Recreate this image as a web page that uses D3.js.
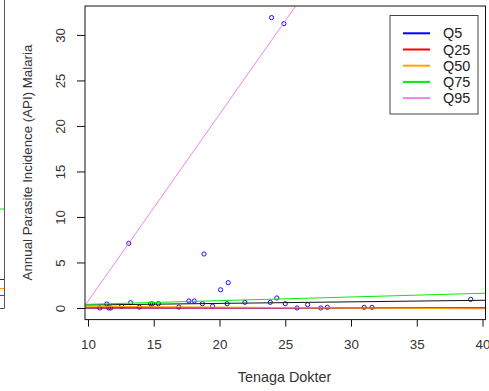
<!DOCTYPE html>
<html><head><meta charset="utf-8">
<script src="https://cdn.jsdelivr.net/npm/d3@7"></script>
<style>body{margin:0;background:#fff;}svg{display:block;font-family:"Liberation Sans",Arial,sans-serif;}</style>
</head><body><div id="chart"></div>
<script>
// Data points: Tenaga Dokter (x) vs API Malaria (y)
const pointX = [10.9,11.42,11.57,11.72,12.56,13.1,13.24,13.9,14.76,14.9,15.35,16.9,17.67,18.08,18.7,18.82,19.47,20.08,20.58,20.66,21.93,23.86,23.96,24.36,24.9,25.0,25.9,26.7,27.7,28.2,31.0,31.6,39.1];
const pointY = [0.0,0.44,0.0,0.0,0.2,7.1,0.58,0.1,0.44,0.44,0.47,0.1,0.77,0.77,0.47,5.93,0.2,2.0,0.47,2.78,0.62,0.62,31.9,1.1,31.24,0.47,0.0,0.37,0.0,0.07,0.07,0.07,0.95];

// Fitted lines (intercept, slope)
const lineNames = ["Q5","Q25","Q50","Q75","Q95"];
const lineColors = ["#0000FF","#FF0000","#FFA500","#00EE00","#EE82EE"];
const lineIntercepts = [0.0, 0.0, 0.285, 0.0, -19.80];
const lineSlopes = [0.0, 0.0, -0.0095, 0.0403, 2.054];
// extra unlabelled black fit
const blackIntercept = 0.158;
const blackSlope = 0.0172;

const xTicks = [10,15,20,25,30,35,40];
const yTicks = [0,5,10,15,20,25,30];
const xTitle = "Tenaga Dokter";
const yTitle = "Annual Parasite Incidence (API) Malaria";

const W = 489, H = 391;
const box = {left: 85, right: 485.5, top: 6, bottom: 319.6};

const svg = d3.select("#chart").append("svg").attr("width", W).attr("height", H);

// fragment of neighbouring panel at the left edge
const frag = svg.append("g");
frag.append("line").attr("x1",4.5).attr("x2",4.5).attr("y1",0).attr("y2",308.5).attr("stroke","#555").attr("stroke-width",1);
frag.append("line").attr("x1",0).attr("x2",4.5).attr("y1",308.5).attr("y2",308.5).attr("stroke","#555");
[[209,"#00EE00"],[279.5,"#333"],[288.5,"#FFA500"],[295.5,"#FF0000"]].forEach(d=>{
  frag.append("line").attr("x1",0).attr("x2",4).attr("y1",d[0]).attr("y2",d[0]).attr("stroke",d[1]);
});

const xmin = d3.min(pointX), xmax = d3.max(pointX);
const ymin = d3.min(pointY), ymax = d3.max(pointY);
const xpad = (xmax-xmin)*0.04, ypad = (ymax-ymin)*0.04;
const x = d3.scaleLinear().domain([xmin-xpad, xmax+xpad]).range([box.left, box.right]);
const y = d3.scaleLinear().domain([ymin-ypad, ymax+ypad]).range([box.bottom, box.top]);

svg.append("clipPath").attr("id","clip").append("rect")
  .attr("x",box.left).attr("y",box.top).attr("width",box.right-box.left).attr("height",box.bottom-box.top);

// points
svg.append("g").selectAll("circle").data(pointX.map((v,i)=>[v,pointY[i]])).join("circle")
  .attr("cx",d=>x(d[0])).attr("cy",d=>y(d[1])).attr("r",2.1)
  .attr("fill","none").attr("stroke","#1010FF").attr("stroke-width",1);

// lines
const gl = svg.append("g").attr("clip-path","url(#clip)");
const xd = x.domain();
function drawLine(a,b,col){
  gl.append("line").attr("x1",x(xd[0])).attr("x2",x(xd[1]))
    .attr("y1",y(a+b*xd[0])).attr("y2",y(a+b*xd[1]))
    .attr("stroke",col).attr("stroke-width",1);
}
drawLine(blackIntercept, blackSlope, "#111");
lineNames.forEach((n,i)=>drawLine(lineIntercepts[i], lineSlopes[i], lineColors[i]));

// box
svg.append("rect").attr("x",box.left).attr("y",box.top).attr("width",box.right-box.left).attr("height",box.bottom-box.top)
  .attr("fill","none").attr("stroke","#111").attr("stroke-width",1);

// axes
const xAxis = d3.axisBottom(x).tickValues(xTicks).tickSize(7).tickPadding(5).tickFormat(d3.format("d"));
const gx = svg.append("g").attr("transform",`translate(0,${box.bottom})`).call(xAxis);
gx.select(".domain").remove();
gx.selectAll("line").attr("stroke","#111");
gx.selectAll("text").attr("font-size","13.4px").attr("fill","#333").attr("font-family","Liberation Sans, Arial, sans-serif")
  .attr("dy",null).attr("y",29.5);

const yAxis = d3.axisLeft(y).tickValues(yTicks).tickSize(8).tickFormat(d3.format("d"));
const gy = svg.append("g").attr("transform",`translate(${box.left},0)`).call(yAxis);
gy.select(".domain").remove();
gy.selectAll("line").attr("stroke","#111");
gy.selectAll("text").remove();
gy.selectAll(".tick").append("text")
  .attr("transform","translate(-20,0) rotate(-90)")
  .attr("text-anchor","middle").attr("font-size","13.3px").attr("fill","#333")
  .text(d=>d);

// titles
svg.append("text").attr("x",284.5).attr("y",381.5).attr("text-anchor","middle")
  .attr("font-size","14.4px").attr("fill","#333").text(xTitle);
svg.append("text").attr("transform","translate(31.5,162.5) rotate(-90)").attr("text-anchor","middle")
  .attr("font-size","13.3px").attr("fill","#333").text(yTitle);

// legend
const lg = svg.append("g");
lg.append("rect").attr("x",390).attr("y",15.5).attr("width",88).attr("height",98.5)
  .attr("fill","#fff").attr("stroke","#444").attr("stroke-width",1);
lineNames.forEach((n,i)=>{
  const cy = 33.3 + i*16.2;
  lg.append("line").attr("x1",403).attr("x2",430).attr("y1",cy).attr("y2",cy)
    .attr("stroke",lineColors[i]).attr("stroke-width",2);
  lg.append("text").attr("x",443).attr("y",cy+5).attr("font-size","14.4px").attr("fill","#222").text(n);
});
</script></body></html>
